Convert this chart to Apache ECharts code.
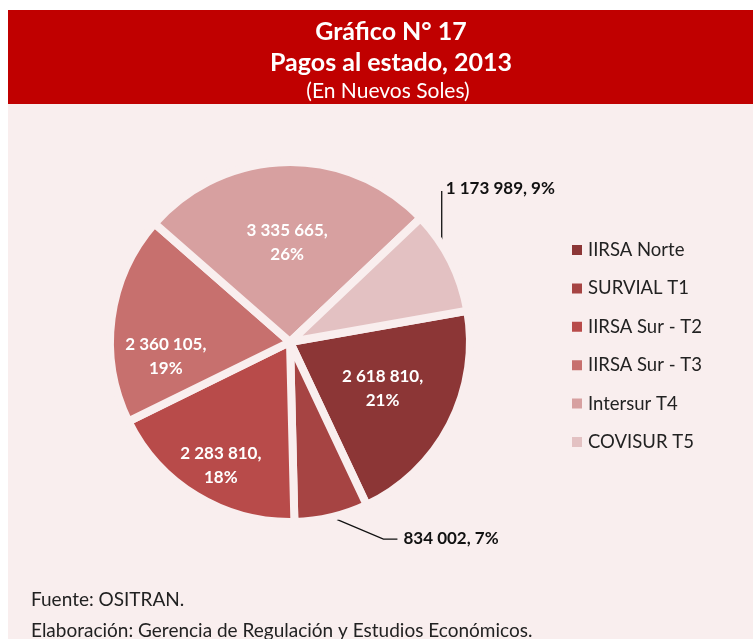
<!DOCTYPE html>
<html>
<head>
<meta charset="utf-8">
<script src="https://cdn.jsdelivr.net/npm/echarts@6/dist/echarts.min.js"></script>
<style>
  html, body { margin: 0; padding: 0; background: #fff; }
  #chart { width: 753px; height: 639px; }
</style>
</head>
<body>
<div id="chart"></div>
<script>
// datos del gráfico
var concesiones = ['IIRSA Norte', 'SURVIAL T1', 'IIRSA Sur - T2', 'IIRSA Sur - T3', 'Intersur T4', 'COVISUR T5'];
var pagos = [2618810, 834002, 2283810, 2360105, 3335665, 1173989];
var colores = ['#8C3636', '#A64443', '#B84B4A', '#C7706E', '#D7A0A0', '#E3C1C2'];
// etiquetas que van fuera del pie
var fuera = ['SURVIAL T1', 'COVISUR T5'];
// ajuste fino de las etiquetas interiores (dx, dy)
var ajustes = [[10, 4], null, [-21, 44], [-32, 27], [-1, -7], null];

var fondo = '#F9EEEE', rojo = '#C00000';
var fuente = 'Lato, "Open Sans", sans-serif';

function miles(v) {
	return String(v).replace(/\B(?=(\d{3})+(?!\d))/g, ' ');
}

var myChart = echarts.init(document.getElementById('chart'));

var datos = [];
for (var i = 0; i < concesiones.length; i++) {
	var d = { name: concesiones[i], value: pagos[i], itemStyle: { color: colores[i] } };
	if (fuera.indexOf(concesiones[i]) >= 0) {
		d.label = {
			position: 'outside',
			color: '#111',
			fontSize: 17,
			formatter: function(p) { return miles(p.value) + ', ' + p.percent + '%'; }
		};
		d.labelLine = { show: true, lineStyle: { color: '#111', width: 1.3 } };
	}
	datos.push(d);
}

var option = {
	backgroundColor: '#fff',
	animation: false,
	graphic: [
		{ type: 'rect', shape: { x: 8, y: 10, width: 745, height: 94 }, style: { fill: rojo }, z: 0 },
		{ type: 'rect', shape: { x: 8, y: 104, width: 745, height: 535 }, style: { fill: fondo }, z: 0 }
	],
	title: [
		{
			text: 'Gráfico N° 17',
			left: 386, top: 14, textAlign: 'center',
			textStyle: { color: '#fff', fontSize: 25, fontWeight: 'bold', fontFamily: fuente }
		},
		{
			text: 'Pagos al estado, 2013',
			left: 386, top: 45, textAlign: 'center',
			textStyle: { color: '#fff', fontSize: 25, fontWeight: 'bold', fontFamily: fuente }
		},
		{
			text: '(En Nuevos Soles)',
			left: 383, top: 76, textAlign: 'center',
			textStyle: { color: '#fff', fontSize: 21, fontWeight: 'normal', fontFamily: fuente }
		},
		{
			text: 'Fuente: OSITRAN.',
			left: 26, top: 585,
			textStyle: { color: '#222', fontSize: 19, fontWeight: 'normal', fontFamily: fuente }
		},
		{
			text: 'Elaboración: Gerencia de Regulación y Estudios Económicos.',
			left: 26, top: 616,
			textStyle: { color: '#222', fontSize: 19, fontWeight: 'normal', fontFamily: fuente }
		}
	],
	legend: {
		orient: 'vertical',
		left: 565, top: 235,
		icon: 'rect',
		itemWidth: 12, itemHeight: 12,
		itemGap: 18.4,
		data: concesiones,
		textStyle: { color: '#222', fontSize: 18.5, lineHeight: 20, fontFamily: fuente }
	},
	series: [{
		name: 'Pagos',
		type: 'pie',
		center: [290, 342],
		radius: [0, 180],
		startAngle: 10,
		clockwise: true,
		percentPrecision: 0,
		avoidLabelOverlap: false,
		itemStyle: { borderColor: fondo, borderWidth: 8 },
		label: {
			position: 'inside',
			color: '#fff',
			fontSize: 17,
			fontWeight: 'bold',
			lineHeight: 24,
			fontFamily: fuente,
			formatter: function(p) { return miles(p.value) + ',\n' + p.percent + '%'; }
		},
		labelLine: { show: false, z: 10 },
		labelLayout: function(p) {
			var aj = ajustes[p.dataIndex];
			if (aj) return { dx: aj[0], dy: aj[1] };
			var pts = p.labelLinePoints;
			if (!pts) return {};
			var a = pts[0];
			if (p.dataIndex === 5) {
				// línea vertical hacia arriba
				return {
					x: a[0] - 5, y: a[1] - 72,
					align: 'left', verticalAlign: 'middle',
					labelLinePoints: [[a[0] - 9, a[1] - 2], [a[0] - 9, a[1] - 70], [a[0] - 9, a[1] - 70]]
				};
			}
			return {
				x: a[0] + 72, y: a[1] + 21,
				align: 'left', verticalAlign: 'middle',
				labelLinePoints: [a, [a[0] + 52, a[1] + 22], [a[0] + 66, a[1] + 22]]
			};
		},
		data: datos
	}]
};

myChart.setOption(option);
</script>
</body>
</html>
